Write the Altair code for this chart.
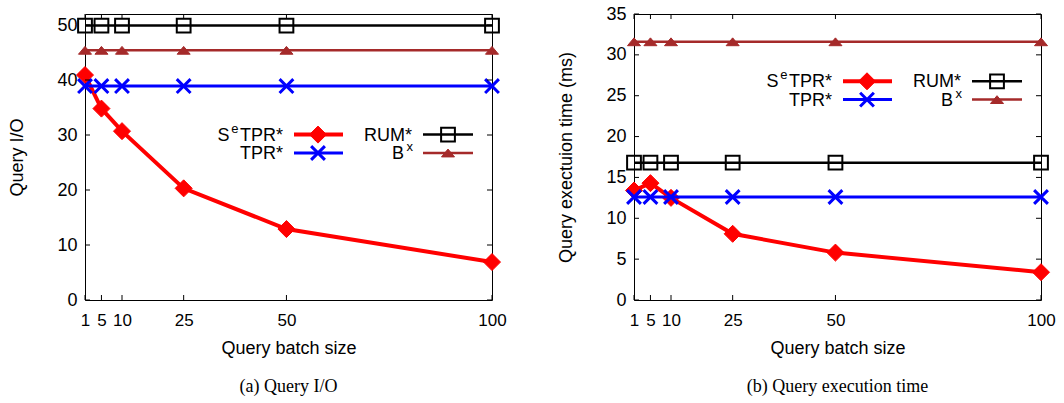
import altair as alt
import pandas as pd

# Query batch sizes on the x axis
batch = [1, 5, 10, 25, 50, 100]

series_names = ["SeTPR*", "TPR*", "RUM*", "Bx"]

# (a) Query I/O
io_setpr = [40.9, 34.8, 30.7, 20.3, 12.9, 6.9]
io_tpr = [38.9, 38.9, 38.9, 38.9, 38.9, 38.9]
io_rum = [49.9, 49.9, 49.9, 49.9, 49.9, 49.9]
io_bx = [45.4, 45.4, 45.4, 45.4, 45.4, 45.4]

# (b) Query execution time (ms)
time_setpr = [13.4, 14.3, 12.5, 8.1, 5.8, 3.4]
time_tpr = [12.6, 12.6, 12.6, 12.6, 12.6, 12.6]
time_rum = [16.8, 16.8, 16.8, 16.8, 16.8, 16.8]
time_bx = [31.6, 31.6, 31.6, 31.6, 31.6, 31.6]

x_ticks = [1, 5, 10, 25, 50, 100]
io_ticks = [0, 10, 20, 30, 40, 50]
time_ticks = [0, 5, 10, 15, 20, 25, 30, 35]

W, H = 407, 286
SANS = "Liberation Sans"
NARROW = "Liberation Sans Narrow, Liberation Sans"
SERIF = "Liberation Serif"

X_PATH = "M-1,-1L1,1M1,-1L-1,1"
TRI_PATH = "M0,-0.6L1,0.6L-1,0.6Z"

STYLE = {
    "SeTPR*": dict(color="#ff0000", line=4, shape="diamond", filled=True, size=290, sw=1),
    "TPR*": dict(color="#0000ff", line=3, shape=X_PATH, filled=False, size=190, sw=3),
    "RUM*": dict(color="#000000", line=2.5, shape="square", filled=False, size=190, sw=2),
    "Bx": dict(color="#a52a2a", line=2.5, shape=TRI_PATH, filled=True, size=170, sw=1),
}

one = pd.DataFrame({"k": [0]})


def point_mark(st):
    if st["filled"]:
        return dict(shape=st["shape"], size=st["size"], filled=True, fill=st["color"],
                    stroke=st["color"], strokeWidth=st["sw"], opacity=1)
    return dict(shape=st["shape"], size=st["size"], filled=False, stroke=st["color"],
                strokeWidth=st["sw"], opacity=1)


def panel(values, ymax, yticks, ytitle, caption, leg_y):
    xs = alt.Scale(domain=[1, 100], nice=False, zero=False)
    ys = alt.Scale(domain=[0, ymax], nice=False, zero=True)
    xaxis = alt.Axis(values=x_ticks, title="Query batch size", labelOverlap=False,
                     labelFlush=False, labelFont=NARROW, labelFontSize=17,
                     titleFont=NARROW, titleFontSize=18, labelPadding=12, titlePadding=11)
    yaxis = alt.Axis(values=yticks, title=ytitle, labelFont=SANS, labelFontSize=18,
                     titleFont=SANS, titleFontSize=18, labelPadding=8, titlePadding=30)

    layers = []
    for name, vals in zip(series_names, values):
        st = STYLE[name]
        d = pd.DataFrame({"batch": batch, "value": vals})
        base = alt.Chart(d).encode(
            x=alt.X("batch:Q", scale=xs, axis=xaxis),
            y=alt.Y("value:Q", scale=ys, axis=yaxis),
        )
        layers.append(base.mark_line(color=st["color"], strokeWidth=st["line"]))
        layers.append(base.mark_point(**point_mark(st)))

    # inward ticks on all four sides of the frame
    xt = pd.DataFrame({"t": x_ticks})
    yt = pd.DataFrame({"t": yticks})
    tick = dict(color="black", strokeWidth=1)
    layers.append(alt.Chart(xt).mark_rule(**tick).encode(
        x=alt.X("t:Q", scale=xs, axis=xaxis), y=alt.value(H), y2=alt.value(H - 5)))
    layers.append(alt.Chart(xt).mark_rule(**tick).encode(
        x=alt.X("t:Q", scale=xs, axis=xaxis), y=alt.value(0), y2=alt.value(5)))
    layers.append(alt.Chart(yt).mark_rule(**tick).encode(
        y=alt.Y("t:Q", scale=ys, axis=yaxis), x=alt.value(0), x2=alt.value(5)))
    layers.append(alt.Chart(yt).mark_rule(**tick).encode(
        y=alt.Y("t:Q", scale=ys, axis=yaxis), x=alt.value(W), x2=alt.value(W - 5)))

    # key: two columns, two rows
    r1, r2 = leg_y
    cols = [(198, 209, 258, 233), (327, 338, 388, 363)]
    entries = [("SeTPR*", 0, r1), ("TPR*", 0, r2), ("RUM*", 1, r1), ("Bx", 1, r2)]
    for name, c, ry in entries:
        tx, lx0, lx1, mx = cols[c]
        st = STYLE[name]
        layers.append(alt.Chart(one).mark_rule(color=st["color"], strokeWidth=st["line"]).encode(
            x=alt.value(lx0), x2=alt.value(lx1), y=alt.value(ry)))
        layers.append(alt.Chart(one).mark_point(**point_mark(st)).encode(
            x=alt.value(mx), y=alt.value(ry)))

    def txt(s, x, y, size=18):
        return alt.Chart(one).mark_text(text=s, font=SANS, fontSize=size, align="right",
                                        baseline="middle", color="black").encode(
            x=alt.value(x), y=alt.value(y))

    layers += [
        txt("TPR*", 198, r1 + 1),
        txt("e", 153.5, r1 - 6, 13),
        txt("S", 144.5, r1 + 1),
        txt("TPR*", 198, r2 + 1),
        txt("RUM*", 327, r1 + 1),
        txt("x", 328, r2 - 6, 13),
        txt("B", 319, r2 + 1),
    ]

    layers.append(alt.Chart(one).mark_text(text=caption, font=SERIF, fontSize=18,
                                           align="center", baseline="middle",
                                           color="black").encode(
        x=alt.value(W / 2), y=alt.value(H + 87)))

    return alt.layer(*layers).properties(width=W, height=H)


left = panel([io_setpr, io_tpr, io_rum, io_bx], 52, io_ticks, "Query I/O",
             "(a) Query I/O", (120.6, 139))
right = panel([time_setpr, time_tpr, time_rum, time_bx], 35, time_ticks,
              "Query exectuion time (ms)", "(b) Query execution time", (67.3, 85.6))

chart = alt.hconcat(left, right, spacing=142, bounds="flush").properties(
    padding={"left": 8, "top": 4, "right": 0, "bottom": 0},
    background="white",
).configure_view(stroke="black", strokeWidth=1).configure_axis(
    grid=False, domain=False, ticks=False, tickSize=0, labelColor="black",
    titleColor="black", titleFontWeight="normal",
)

chart.save("out.html", embed_options={"renderer": "svg", "actions": False})
